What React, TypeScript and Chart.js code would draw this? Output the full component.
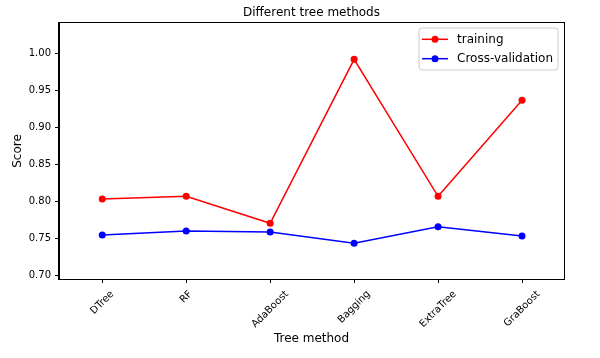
import React, { useEffect, useRef } from "react";
import { Chart, registerables } from "chart.js";

Chart.register(...registerables);

const categories = ["DTree", "RF", "AdaBoost", "Bagging", "ExtraTree", "GraBoost"];
const training = [0.8036, 0.8073, 0.7708, 0.9924, 0.8073, 0.937];
const crossValidation = [0.755, 0.7604, 0.759, 0.7438, 0.766, 0.7536];
const yTicks = [0.7, 0.75, 0.8, 0.85, 0.9, 0.95, 1.0];
const seriesLabels = ["training", "Cross-validation"];
const seriesColors = ["#ff0000", "#0000ff"];
const chartTitle = "Different tree methods";
const xTitle = "Tree method";
const yTitle = "Score";

const FONT = '"DejaVu Sans", sans-serif';

const customPlugin = {
  id: "customDecor",
  afterDatasetsDraw(chart: any) {
    const ctx = chart.ctx;
    const { left, top, right, bottom } = chart.chartArea;
    ctx.save();
    // spines
    ctx.strokeStyle = "#000";
    ctx.lineWidth = 1;
    ctx.strokeRect(Math.round(left) - 0.5, Math.round(top) - 0.5, Math.round(right - left) + 1, Math.round(bottom - top) + 1);

    // rotated x tick labels, centered on tick like matplotlib
    const xs = chart.scales.x;
    ctx.font = "10px " + FONT;
    ctx.fillStyle = "#000";
    categories.forEach((c, i) => {
      const x = xs.getPixelForValue(i);
      const w = ctx.measureText(c).width;
      const h = 10;
      const half = ((w + h) * Math.SQRT1_2) / 2;
      ctx.save();
      ctx.translate(x, bottom + 10 + half);
      ctx.rotate(-Math.PI / 4);
      ctx.textAlign = "center";
      ctx.textBaseline = "middle";
      ctx.fillText(c, 0, 0);
      ctx.restore();
    });

    // legend
    ctx.font = "12px " + FONT;
    const textW = Math.max(...seriesLabels.map((s) => ctx.measureText(s).width));
    const boxW = 3 + 26 + 9 + textW + 5;
    const boxH = 42;
    const bx = right - 6 - boxW;
    const by = top + 5;
    const r = 3;
    ctx.beginPath();
    ctx.moveTo(bx + r, by);
    ctx.lineTo(bx + boxW - r, by);
    ctx.arcTo(bx + boxW, by, bx + boxW, by + r, r);
    ctx.lineTo(bx + boxW, by + boxH - r);
    ctx.arcTo(bx + boxW, by + boxH, bx + boxW - r, by + boxH, r);
    ctx.lineTo(bx + r, by + boxH);
    ctx.arcTo(bx, by + boxH, bx, by + boxH - r, r);
    ctx.lineTo(bx, by + r);
    ctx.arcTo(bx, by, bx + r, by, r);
    ctx.closePath();
    ctx.fillStyle = "rgba(255,255,255,0.8)";
    ctx.fill();
    ctx.strokeStyle = "#cccccc";
    ctx.lineWidth = 1;
    ctx.stroke();

    seriesLabels.forEach((lab, i) => {
      const y = by + 11.3 + i * 19.4;
      const x0 = bx + 3;
      ctx.strokeStyle = seriesColors[i];
      ctx.lineWidth = 1.5;
      ctx.beginPath();
      ctx.moveTo(x0, y);
      ctx.lineTo(x0 + 26, y);
      ctx.stroke();
      ctx.fillStyle = seriesColors[i];
      ctx.beginPath();
      ctx.arc(x0 + 13, y, 3.5, 0, Math.PI * 2);
      ctx.fill();
      ctx.fillStyle = "#000";
      ctx.textAlign = "left";
      ctx.textBaseline = "middle";
      ctx.fillText(lab, x0 + 35, y + 0.5);
    });
    ctx.restore();
  },
};

export default function App() {
  const canvasRef = useRef<HTMLCanvasElement | null>(null);

  useEffect(() => {
    document.body.style.margin = "0";
    const canvas = canvasRef.current;
    if (!canvas) return;
    const chart = new Chart(canvas, {
      type: "line",
      data: {
        datasets: [
          {
            label: seriesLabels[0],
            data: categories.map((_, i) => ({ x: i, y: training[i] })),
            borderColor: seriesColors[0],
            backgroundColor: seriesColors[0],
            pointBackgroundColor: seriesColors[0],
            pointBorderWidth: 0,
            pointRadius: 3.5,
            borderWidth: 1.5,
            tension: 0,
          },
          {
            label: seriesLabels[1],
            data: categories.map((_, i) => ({ x: i, y: crossValidation[i] })),
            borderColor: seriesColors[1],
            backgroundColor: seriesColors[1],
            pointBackgroundColor: seriesColors[1],
            pointBorderWidth: 0,
            pointRadius: 3.5,
            borderWidth: 1.5,
            tension: 0,
          },
        ],
      },
      options: {
        responsive: false,
        animation: false,
        devicePixelRatio: 1,
        layout: { padding: { left: 0, right: 36, top: 0, bottom: 0 } },
        plugins: {
          legend: { display: false },
          tooltip: { enabled: false },
          title: {
            display: true,
            text: chartTitle,
            fullSize: false,
            color: "#000",
            font: { family: FONT, size: 12, weight: "normal" },
            padding: { top: 5.8, bottom: 2.8 },
          },
        },
        scales: {
          x: {
            type: "linear",
            min: -0.515,
            max: 5.5,
            afterBuildTicks: (s: any) => {
              s.ticks = categories.map((_, i) => ({ value: i }));
            },
            afterFit: (s: any) => {
              s.height = 79;
            },
            ticks: {
              autoSkip: false,
              color: "rgba(0,0,0,0)",
              maxRotation: 0,
              callback: (v: any) => categories[v] ?? "",
              font: { family: FONT, size: 10 },
            },
            grid: {
              drawOnChartArea: false,
              drawTicks: true,
              tickLength: 4,
              color: "#000",
            },
            border: { display: true, color: "#000" },
            title: {
              display: true,
              text: xTitle,
              color: "#000",
              font: { family: FONT, size: 12 },
              padding: { top: 0, bottom: 11.8 },
            },
          },
          y: {
            type: "linear",
            min: 0.6955,
            max: 1.0415,
            afterBuildTicks: (s: any) => {
              s.ticks = yTicks.map((v) => ({ value: v }));
            },
            afterFit: (s: any) => {
              s.width = 59;
            },
            ticks: {
              color: "#000",
              padding: 4,
              font: { family: FONT, size: 10 },
              callback: (v: any) => Number(v).toFixed(2),
            },
            grid: {
              drawOnChartArea: false,
              drawTicks: true,
              tickLength: 4,
              color: "#000",
            },
            border: { display: true, color: "#000" },
            title: {
              display: true,
              text: yTitle,
              color: "#000",
              font: { family: FONT, size: 12 },
              padding: { top: 10.8, bottom: 0 },
            },
          },
        },
      },
      plugins: [customPlugin],
    });
    return () => chart.destroy();
  }, []);

  return (
    <div style={{ width: 600, height: 358, background: "#fff" }}>
      <canvas ref={canvasRef} width={600} height={358} style={{ display: "block" }} />
    </div>
  );
}
